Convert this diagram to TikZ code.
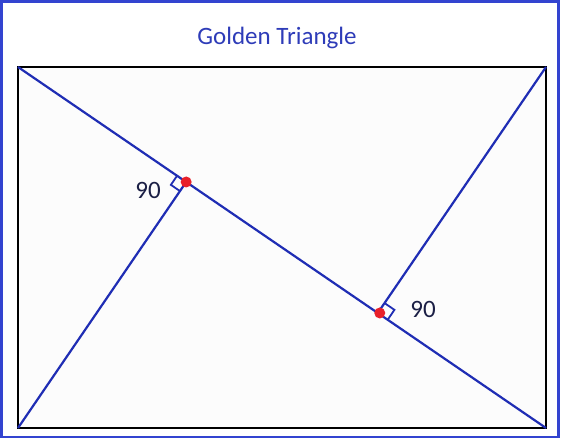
\documentclass[tikz,border=0pt]{standalone}
\usepackage{fontspec}
\setmainfont{Carlito}
\usepackage{xcolor}
\usepackage{tikz}
\usetikzlibrary{calc}
\definecolor{lineblue}{HTML}{1F2DB4}
\definecolor{frameblue}{HTML}{3344D0}
\definecolor{titleblue}{HTML}{2E3CB8}
\definecolor{dotred}{HTML}{E8202A}
\definecolor{degnavy}{HTML}{1B1F45}

\begin{document}
\begin{tikzpicture}[x=1pt,y=-1pt,
    edge/.style={draw=lineblue, line width=2.2pt},
    rightangle/.style={draw=lineblue, line width=1.8pt},
    footdot/.style={shape=circle, fill=dotred, inner sep=0pt, minimum size=11pt},
    deg/.style={font=\fontsize{25}{30}\selectfont, text=degnavy}]
    \useasboundingbox (0,0) rectangle (563,440);
    \draw[draw=frameblue, line width=2.5pt] (1.5,1.5) rectangle (558.5,437);
    \node[font=\fontsize{25}{30}\selectfont, text=titleblue] (title) at (277,38) {Golden Triangle};

    \coordinate (tl) at (18,67);
    \coordinate (tr) at (546,67);
    \coordinate (br) at (546,428);
    \coordinate (bl) at (18,428);
    \fill[black!1] (tl) rectangle (br);
    \draw[line width=2.4pt] (tl) rectangle (br);

    % feet of the two perpendiculars
    \coordinate (foota) at ($(tl)!(bl)!(br)$);
    \coordinate (footb) at ($(tl)!(tr)!(br)$);

    \draw[edge] (tl) -- (br);
    \draw[edge] (bl) -- (foota);
    \draw[edge] (tr) -- (footb);

    % right angle marks
    \coordinate (sqa1) at ($(foota)!11pt!(tl)$);
    \coordinate (sqa2) at ($(foota)!11pt!(bl)$);
    \draw[rightangle] (sqa1) -- ($(sqa1)+(sqa2)-(foota)$) -- (sqa2);
    \coordinate (sqb1) at ($(footb)!12pt!(br)$);
    \coordinate (sqb2) at ($(footb)!12pt!(tr)$);
    \draw[rightangle] (sqb1) -- ($(sqb1)+(sqb2)-(footb)$) -- (sqb2);

    \node[footdot] (dota) at (foota) {};
    \node[footdot] (dotb) at ($(footb)+(2,0)$) {};

    \node[deg] (dega) at (148,190) {90};
    \node[deg] (degb) at (423,309) {90};
\end{tikzpicture}
\end{document}
